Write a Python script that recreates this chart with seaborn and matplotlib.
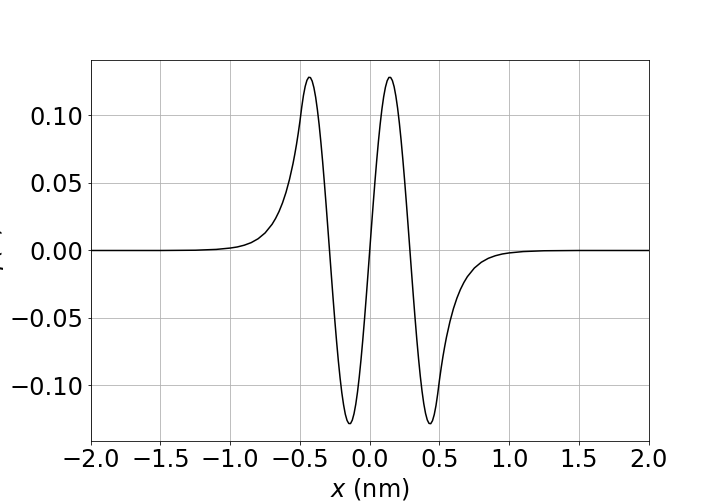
import matplotlib
matplotlib.use("Agg")
import matplotlib.pyplot as plt
import pandas as pd
import seaborn as sns

# wavefunction (x in nm)
x_nm = [-2.0, -1.75, -1.5, -1.25, -1.1, -1.0, -0.95, -0.9, -0.85, -0.8, -0.75,
        -0.7, -0.675, -0.65, -0.625, -0.6, -0.575, -0.55, -0.5375, -0.525, -0.5125, -0.5,
        -0.4875, -0.475, -0.4625, -0.45, -0.4375, -0.425, -0.4125, -0.4, -0.3875,
        -0.375, -0.3625, -0.35, -0.3375, -0.325, -0.3125, -0.3, -0.2875, -0.275,
        -0.2625, -0.25, -0.2375, -0.225, -0.2125, -0.2, -0.1875, -0.175, -0.1625,
        -0.15, -0.1375, -0.125, -0.1125, -0.1, -0.0875, -0.075, -0.0625, -0.05,
        -0.0375, -0.025, -0.0125,
        0.0,
        0.0125, 0.025, 0.0375, 0.05, 0.0625, 0.075, 0.0875, 0.1, 0.1125, 0.125,
        0.1375, 0.15, 0.1625, 0.175, 0.1875, 0.2, 0.2125, 0.225, 0.2375, 0.25,
        0.2625, 0.275, 0.2875, 0.3, 0.3125, 0.325, 0.3375, 0.35, 0.3625, 0.375,
        0.3875, 0.4, 0.4125, 0.425, 0.4375, 0.45, 0.4625, 0.475, 0.4875,
        0.5, 0.5125, 0.525, 0.5375, 0.55, 0.575, 0.6, 0.625, 0.65, 0.675, 0.7,
        0.75, 0.8, 0.85, 0.9, 0.95, 1.0, 1.1, 1.25, 1.5, 1.75, 2.0]
psi = [0.0, 0.0, 0.0, 0.0002, 0.0008, 0.0018, 0.0026, 0.0039, 0.0058, 0.0087, 0.0130,
       0.0194, 0.0237, 0.0289, 0.0353, 0.0431, 0.0527, 0.0643, 0.0711, 0.0785, 0.0868, 0.0959,
       0.1061, 0.1149, 0.1216, 0.1261, 0.1283, 0.1281, 0.1255, 0.1206, 0.1135,
       0.1042, 0.0931, 0.0801, 0.0658, 0.0501, 0.0336, 0.0164, -0.0010, -0.0185,
       -0.0356, -0.0520, -0.0674, -0.0817, -0.0944, -0.1054, -0.1143, -0.1213, -0.1259,
       -0.1282, -0.1282, -0.1257, -0.1209, -0.1139, -0.1048, -0.0937, -0.0809, -0.0666,
       -0.0511, -0.0346, -0.0175,
       0.0,
       0.0175, 0.0346, 0.0511, 0.0666, 0.0809, 0.0937, 0.1048, 0.1139, 0.1209, 0.1257,
       0.1282, 0.1282, 0.1259, 0.1213, 0.1143, 0.1054, 0.0944, 0.0817, 0.0674, 0.0520,
       0.0356, 0.0185, 0.0010, -0.0164, -0.0336, -0.0501, -0.0658, -0.0801, -0.0931, -0.1042,
       -0.1135, -0.1206, -0.1255, -0.1281, -0.1283, -0.1261, -0.1216, -0.1149, -0.1061,
       -0.0959, -0.0868, -0.0785, -0.0711, -0.0643, -0.0527, -0.0431, -0.0353, -0.0289, -0.0237, -0.0194,
       -0.0130, -0.0087, -0.0058, -0.0039, -0.0026, -0.0018, -0.0008, -0.0002, 0.0, 0.0, 0.0]

x_ticks = [-2.0, -1.5, -1.0, -0.5, 0.0, 0.5, 1.0, 1.5, 2.0]

df = pd.DataFrame({"x": x_nm, "psi": psi})

plt.rcParams['font.family'] = ['DejaVu Sans']
plt.rcParams['font.size'] = 24

fig, ax = plt.subplots(figsize=(10, 7), dpi=72)
fig.subplots_adjust(left=0.126, right=0.901, top=0.881, bottom=0.125)

sns.lineplot(data=df, x="x", y="psi", color="black", linewidth=1.5, ax=ax, sort=False)

ax.set_xlim(-2, 2)
ax.set_xticks(x_ticks)
ax.grid(True, color="#b0b0b0", linewidth=0.8)
ax.set_xlabel("$x$ (nm)", fontsize=24)
ax.set_ylabel(r"$\psi(x)$", fontsize=24)
ax.tick_params(labelsize=24)

plt.savefig("out.png", dpi=72)
